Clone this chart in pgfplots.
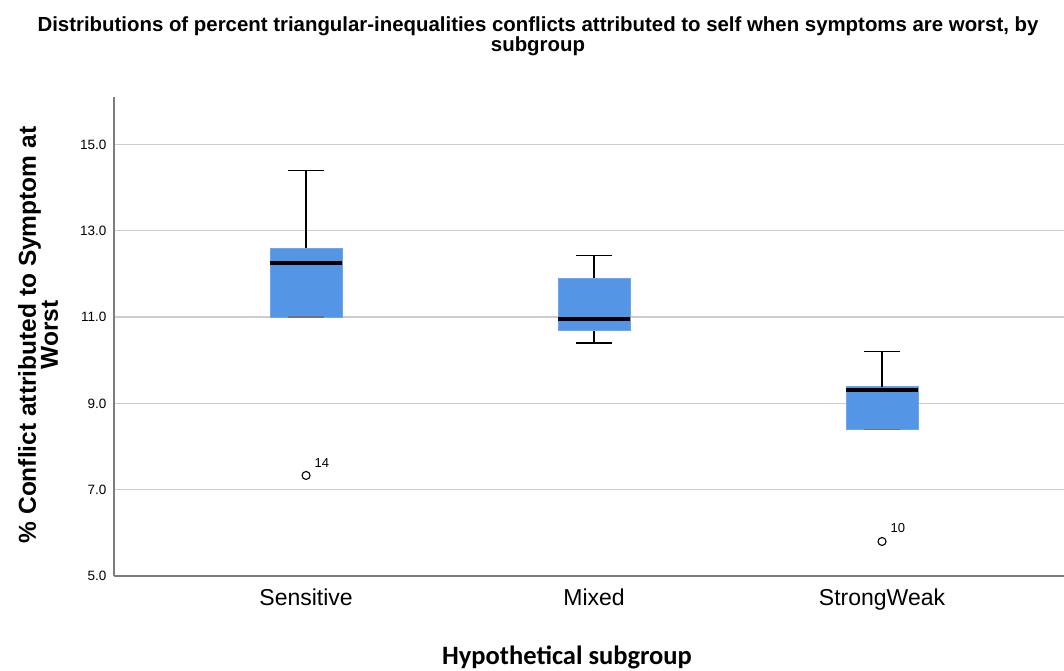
\documentclass[border=0pt]{standalone}
\usepackage{fontspec}
\setmainfont{Liberation Sans}
\newfontfamily\calibri{Carlito}
\usepackage{pgfplots}
\pgfplotsset{compat=1.18}
\definecolor{boxblue}{RGB}{84,150,229}
\definecolor{gridgray}{RGB}{205,205,205}
\definecolor{axisgray}{RGB}{125,125,125}
\begin{document}
\begin{tikzpicture}
\useasboundingbox (0pt,0pt) rectangle (1064pt,670pt);
\begin{axis}[
  at={(114pt,94pt)}, anchor=south west,
  width=950pt, height=479pt, scale only axis,
  xmin=0.333, xmax=3.632, ymin=5, ymax=16.1,
  axis lines*=left,
  axis line style={axisgray, line width=1.2pt, -},
  xtick={1,2,3}, xticklabels={Sensitive,Mixed,StrongWeak},
  xticklabel style={font=\fontsize{23}{25}\selectfont, yshift=-9pt},
  ytick={5,7,9,11,13,15},
  yticklabel style={font=\fontsize{13.5}{16}\selectfont, xshift=-4pt,
    /pgf/number format/fixed, /pgf/number format/fixed zerofill,
    /pgf/number format/precision=1, /pgf/number format/assume math mode=true},
  major tick length=0pt,
  ymajorgrids, grid style={gridgray, line width=1.3pt},
  clip=false,
]
% boxes (Q1 to Q3)
\addplot[draw=boxblue!85!white, fill=boxblue, line width=0.8pt] coordinates {(0.875,11.0) (1.125,11.0) (1.125,12.6) (0.875,12.6)} -- cycle;
\addplot[draw=boxblue!85!white, fill=boxblue, line width=0.8pt] coordinates {(1.875,10.68) (2.125,10.68) (2.125,11.9) (1.875,11.9)} -- cycle;
\addplot[draw=boxblue!85!white, fill=boxblue, line width=0.8pt] coordinates {(2.875,8.4) (3.125,8.4) (3.125,9.39) (2.875,9.39)} -- cycle;
% whiskers
\addplot[black, line width=1.3pt] coordinates {(1,12.6) (1,14.4)};
\addplot[black, line width=1.3pt] coordinates {(0.9375,14.4) (1.0625,14.4)};
\addplot[black!55, line width=1.3pt] coordinates {(0.9375,11.0) (1.0625,11.0)};
\addplot[black, line width=1.3pt] coordinates {(2,11.9) (2,12.42)};
\addplot[black, line width=1.3pt] coordinates {(1.9375,12.42) (2.0625,12.42)};
\addplot[black, line width=1.3pt] coordinates {(2,10.68) (2,10.4)};
\addplot[black, line width=1.3pt] coordinates {(1.9375,10.4) (2.0625,10.4)};
\addplot[black, line width=1.3pt] coordinates {(3,9.39) (3,10.2)};
\addplot[black, line width=1.3pt] coordinates {(2.9375,10.2) (3.0625,10.2)};
\addplot[black!55, line width=1.3pt] coordinates {(2.9375,8.4) (3.0625,8.4)};
% medians
\addplot[black, line width=3.5pt] coordinates {(0.875,12.25) (1.125,12.25)};
\addplot[black, line width=3.5pt] coordinates {(1.875,10.96) (2.125,10.96)};
\addplot[black, line width=3.5pt] coordinates {(2.875,9.31) (3.125,9.31)};
% outliers
\addplot[only marks, mark=o, mark size=4pt, mark options={black, line width=1.1pt}] coordinates {(1,7.33) (3,5.8)};
\node[font=\fontsize{13}{15}\selectfont] at (axis cs:1.055,7.62) {14};
\node[font=\fontsize{13}{15}\selectfont] at (axis cs:3.055,6.12) {10};
\end{axis}
\node[align=center, font=\bfseries\fontsize{20.4}{20}\selectfont] at (538pt,634pt)
  {Distributions of percent triangular-inequalities conflicts attributed to self when symptoms are worst, by\\subgroup};
\node[rotate=90, align=center, font=\bfseries\fontsize{24.5}{22}\selectfont] at (38pt,335pt)
  {\% Conflict attributed to Symptom at\\Worst};
\node[font=\calibri\bfseries\fontsize{26.5}{28}\selectfont] at (567pt,13pt) {Hypothetical subgroup};
\end{tikzpicture}
\end{document}
